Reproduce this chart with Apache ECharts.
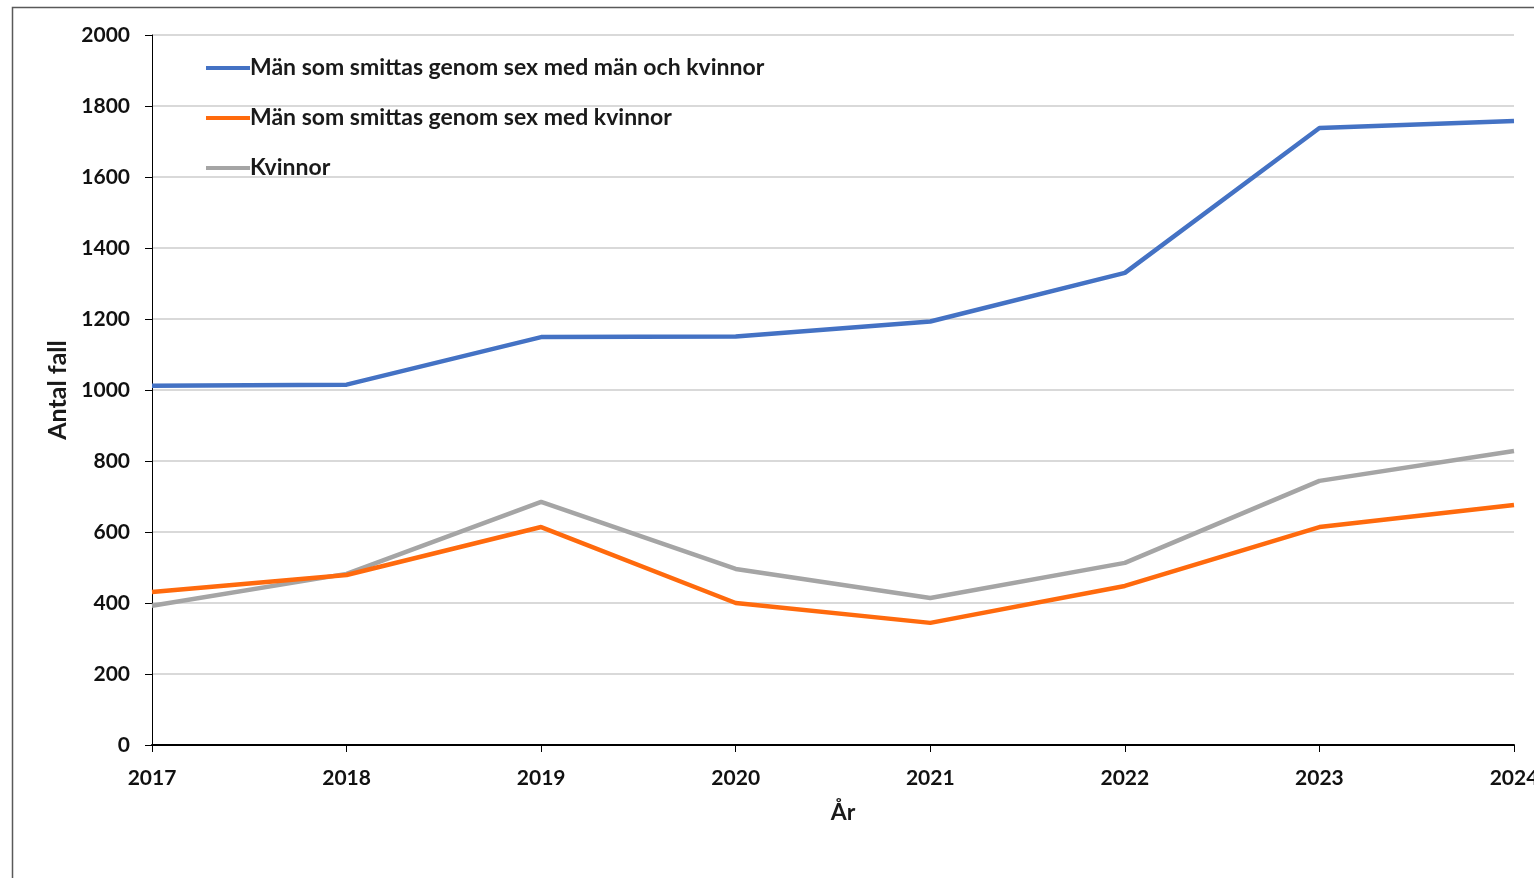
<!DOCTYPE html>
<html>
<head>
<meta charset="utf-8">
<script src="https://cdn.jsdelivr.net/npm/echarts@6/dist/echarts.min.js"></script>
<style>
html,body{margin:0;padding:0;background:#fff;}
#chart{width:1534px;height:878px;}
</style>
</head>
<body>
<div id="chart"></div>
<script>
var years = [2017, 2018, 2019, 2020, 2021, 2022, 2023, 2024];
var manMK = [1012, 1015, 1149, 1151, 1193, 1330, 1738, 1758];
var manK = [431, 479, 614, 400, 344, 448, 614, 676];
var kvinnor = [392, 482, 685, 496, 414, 513, 744, 828];
var names = ['Män som smittas genom sex med män och kvinnor', 'Män som smittas genom sex med kvinnor', 'Kvinnor'];
var colors = ['#4472C4', '#FF6A0D', '#A5A5A5'];

function pairs(vals) { return years.map(function (y, i) { return [y, vals[i]]; }); }

var font = 'Lato, "Open Sans", sans-serif';
var chart = echarts.init(document.getElementById('chart'));
var allSeries = [manMK, manK, kvinnor];
chart.setOption({
  animation: false,
  backgroundColor: '#fff',
  graphic: [{
    type: 'rect', left: 10, top: 5, shape: { width: 1600, height: 1000 },
    style: { fill: 'none', stroke: '#595959', lineWidth: 1.5 }, z: -1
  }],
  grid: { left: 152, right: 20, top: 35, bottom: 133, containLabel: false, outerBoundsMode: 'none' },
  legend: {
    orient: 'vertical', left: 206, top: 55, padding: 0,
    icon: 'rect', itemWidth: 44, itemHeight: 4, itemGap: 24,
    textStyle: { fontFamily: font, fontWeight: 'bold', fontSize: 23, color: '#1a1a1a', padding: [0, 0, 0, -5], lineHeight: 26 },
    data: names
  },
  xAxis: {
    type: 'value', min: 2017, max: 2024, interval: 1,
    name: 'År', nameLocation: 'middle', nameGap: 56,
    nameTextStyle: { fontFamily: font, fontWeight: 'bold', fontSize: 23, color: '#1a1a1a', padding: [0, 0, 0, 20] },
    axisLine: { show: true, lineStyle: { color: '#000', width: 2 } },
    axisTick: { show: true, length: 7, lineStyle: { color: '#000', width: 1 } },
    axisLabel: { fontFamily: font, fontWeight: 'bold', fontSize: 21, color: '#111', margin: 23, showMaxLabel: true,
      formatter: function (v) { return String(v); } },
    splitLine: { show: false }
  },
  yAxis: {
    type: 'value', min: 0, max: 2000, interval: 200,
    name: 'Antal fall', nameLocation: 'middle', nameGap: 82, nameRotate: 90,
    nameTextStyle: { fontFamily: font, fontWeight: 'bold', fontSize: 25, color: '#1a1a1a' },
    axisLine: { show: true, lineStyle: { color: '#000', width: 1 } },
    axisTick: { show: true, length: 7, lineStyle: { color: '#000' } },
    axisLabel: { fontFamily: font, fontWeight: 'bold', fontSize: 21, color: '#111', margin: 22,
      formatter: function (v) { return String(v); } },
    splitLine: { show: true, lineStyle: { color: '#d9d9d9', width: 2 } }
  },
  series: allSeries.map(function (vals, i) {
    return {
      name: names[i], type: 'line', data: pairs(vals),
      showSymbol: false, symbol: 'none',
      lineStyle: { color: colors[i], width: 4.5 },
      itemStyle: { color: colors[i] },
      z: 3 - i
    };
  })
});
</script>
</body>
</html>
